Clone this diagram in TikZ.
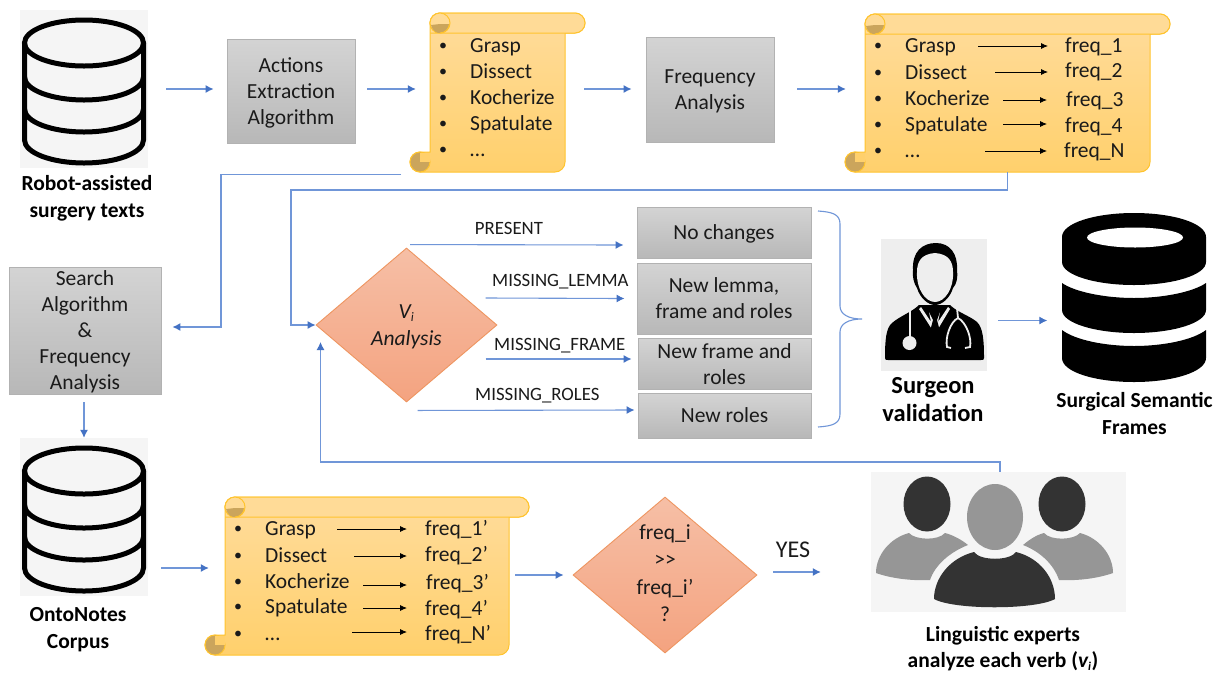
\documentclass[tikz,border=0pt]{standalone}
\usepackage{fontspec}
\setmainfont{Carlito}
\usetikzlibrary{arrows.meta,shapes.geometric}
\definecolor{ink}{HTML}{1A1A1A}
\definecolor{bluearr}{HTML}{7096D8}
\definecolor{bluetip}{HTML}{4472C4}
\definecolor{scrollb}{HTML}{FFC42E}
\definecolor{scrolltop}{HTML}{FFDC9C}
\definecolor{scrollbot}{HTML}{FFD06C}
\definecolor{rollfill}{HTML}{FFDB97}
\definecolor{curl}{HTML}{CBA55C}
\definecolor{dtop}{HTML}{F6BFA6}
\definecolor{dbot}{HTML}{F4A380}
\definecolor{dedge}{HTML}{EE9560}
\newcommand{\toprl}[1][20]{\rule{0pt}{#1pt}}
\newcommand{\botrl}[1][6]{\rule[-#1pt]{0pt}{#1pt}}
\tikzset{
  arr/.style={draw=bluearr,line width=1.1pt,-{Latex[length=8pt,width=8pt,color=bluetip]}},
  blk/.style={draw=black,line width=.8pt,-{Latex[length=7pt,width=6pt]}},
  graybox/.style={draw=black!30,line width=.9pt,top color=black!17,bottom color=black!28,inner sep=0pt,align=center,text=ink,font=\fontsize{21.5}{26}\selectfont},
  decide/.style={diamond,draw=dedge,line width=.9pt,top color=dtop,bottom color=dbot,inner sep=-5pt,aspect=1.17,align=center,text=ink},
  lab/.style={inner sep=0pt,text=ink,text height=14pt,text depth=4pt,font=\fontsize{18.8}{22}\selectfont},
  itemtxt/.style={inner sep=0pt,anchor=west,text=ink,text height=16pt,text depth=4pt,font=\fontsize{21.5}{24}\selectfont},
  bull/.style={inner sep=0pt,anchor=west,text=ink,text height=16pt,text depth=4pt,yshift=2pt,font=\fontsize{16}{20}\selectfont},
  boldcap/.style={inner sep=0pt,align=center,text=black,font=\bfseries\fontsize{21.5}{27}\selectfont},
  region/.style={inner sep=0pt},
}
\newcommand{\myscroll}[5]{%
  \node[region,minimum width=#3pt-#1pt,minimum height=#4pt-#2pt] (#5) at ({(#1+#3)/2},{(#2+#4)/2}) {};
  \path[draw=scrollb,line width=1pt,top color=scrolltop,bottom color=scrollbot,rounded corners=10pt]
    (#1,{#4-20}) -- (#1,#2) -- ({#3+20},#2) -- ({#3+20},{#2+20}) [sharp corners] -- (#3,{#2+20}) [rounded corners=10pt] -- (#3,#4) -- ({#1-20},#4) -- ({#1-20},{#4-20}) [sharp corners] -- cycle;
  \path[draw=scrollb,line width=1pt,fill=rollfill,rounded corners=10pt]
    ({#1+10},{#2+20}) -- ({#3+20},{#2+20}) -- ({#3+20},#2) -- (#1,#2) -- (#1,{#2+20}) -- cycle;
  \path[draw=scrollb,line width=1pt,fill=rollfill] ({#1+10},{#2+10}) circle[radius=10];
  \fill[curl] ({#1+1},{#2+12}) .. controls ({#1+3},{#2+19}) and ({#1+7},{#2+20}) .. ({#1+10},{#2+20}) .. controls ({#1+15},{#2+20}) and ({#1+19},{#2+16}) .. ({#1+19.5},{#2+11}) -- ({#1+10},{#2+11}) -- cycle;
  \draw[scrollb,line width=1pt] ({#1+19.5},{#2+11}) .. controls ({#1+19},{#2+16}) and ({#1+15},{#2+20}) .. ({#1+10},{#2+20});
  \filldraw[fill=curl,draw=scrollb,line width=1pt] ({#1-10},{#4-10}) circle[radius=10];
  \fill[scrollbot] ({#1-10},{#4-10}) rectangle ({#1-.5},{#4-19.5});
}
\newcommand{\mydb}[1]{%
  \begin{scope}[yshift=-#1pt,draw=black,line width=5pt,line cap=round]
    \draw (84,43) ellipse[x radius=59.5,y radius=23];
    \draw (24.5,43) -- (24.5,140) .. controls (24.5,153) and (52,163) .. (84,163) .. controls (116,163) and (143.5,153) .. (143.5,140) -- (143.5,43);
    \draw (24.5,77) .. controls (24.5,90) and (52,100) .. (84,100) .. controls (116,100) and (143.5,90) .. (143.5,77);
    \draw (24.5,109) .. controls (24.5,122) and (52,132) .. (84,132) .. controls (116,132) and (143.5,122) .. (143.5,109);
  \end{scope}
}
\begin{document}
\begin{tikzpicture}[x=1pt,y=-1pt]
\useasboundingbox (0,0) rectangle (1217,673);
\fill[white] (0,0) rectangle (1217,673);

% icons backgrounds and icons
\node[region,fill=black!4,minimum width=128pt,minimum height=158pt] (dbA) at (84,89) {};
\mydb{0}
\node[region,fill=black!4,minimum width=128pt,minimum height=158pt] (dbB) at (84,517) {};
\mydb{428}
\node[boldcap] (capA) at (87,197.5) {\toprl[18]Robot-assisted\\surgery texts\botrl};
\node[boldcap] (capB) at (78,628.5) {\toprl[18]OntoNotes\\Corpus\botrl};

% scrolls
\myscroll{430}{13}{565}{172}{scrollA}
\myscroll{865}{14}{1150}{172}{scrollB}
\myscroll{225}{497}{509}{655}{scrollC}

\foreach \n/\t/\y in {1/Grasp/46,2/Dissect/72,3/Kocherize/98,4/Spatulate/124,5/…/150}{
  \node[bull] (b\n) at (439,\y) {•};
  \node[itemtxt] (w\n) at (470,\y) {\t};
}
\foreach \n/\t/\yt/\xa/\xb/\ya/\f/\xf/\yf in {
  1/Grasp/46/978/1048/46/freq\_1/1065/46,
  2/Dissect/73/995/1048/72/freq\_2/1065/71,
  3/Kocherize/99/1003/1047/100/freq\_3/1066/100,
  4/Spatulate/125/1003/1047/124/freq\_4/1065/126,
  5/…/151/985/1047/151/freq\_N/1064/151}{
  \node[bull] (bb\n) at (874,\yt) {•};
  \node[itemtxt] (wb\n) at (905,\yt) {\t};
  \node[itemtxt] (fb\n) at (\xf,\yf) {\f};
  \coordinate (sb\n) at (\xa,\ya);
  \coordinate (eb\n) at (\xb,\ya);
  \draw[blk] (sb\n) -- (eb\n);
}
\foreach \n/\t/\yt/\xa/\xb/\ya/\f/\xf/\yf in {
  1/Grasp/529/337/407/529/freq\_1’/425/529,
  2/Dissect/556/354/407/556/freq\_2’/425/555,
  3/Kocherize/582/363/407/585/freq\_3’/426/583,
  4/Spatulate/607/363/407/608/freq\_4’/425/609,
  5/…/634/352/407/632/freq\_N’/425/634}{
  \node[bull] (bc\n) at (234,\yt) {•};
  \node[itemtxt] (wc\n) at (265,\yt) {\t};
  \node[itemtxt] (fc\n) at (\xf,\yf) {\f};
  \coordinate (sc\n) at (\xa,\ya);
  \coordinate (ec\n) at (\xb,\ya);
  \draw[blk] (sc\n) -- (ec\n);
}

% gray boxes
\node[graybox,minimum width=128pt,minimum height=104pt] (act) at (291,91) {\toprl Actions\\Extraction\\Algorithm\botrl};
\node[graybox,minimum width=128pt,minimum height=105pt] (freq) at (710,89.5) {\toprl Frequency\\Analysis\botrl};
\node[graybox,minimum width=152pt,minimum height=127pt] (search) at (85,330.5) {\toprl[18]Search\\Algorithm\\\&\\Frequency\\Analysis\botrl[4.5]};
\node[graybox,minimum width=174pt,minimum height=51pt] (nochg) at (724,232.5) {\toprl No changes\botrl};
\node[graybox,minimum width=174pt,minimum height=71pt] (lemma) at (724,298.5) {\toprl New lemma,\\frame and roles\botrl};
\node[graybox,minimum width=173pt,minimum height=51pt] (frameB) at (724.5,363.5) {\toprl New frame and\\roles\botrl[4.5]};
\node[graybox,minimum width=173pt,minimum height=45pt] (roles) at (724.5,415.5) {\toprl New roles\botrl};

% diamonds
\node[decide,minimum width=181pt,minimum height=154pt,font=\fontsize{21.5}{27}\selectfont] (vi) at (406.5,325) {\toprl\itshape V\textsubscript{\fontsize{13}{13}\selectfont i}\\\itshape Analysis\botrl[7]};
\node[decide,minimum width=184pt,minimum height=156pt,font=\fontsize{21.5}{27.5}\selectfont] (fq) at (665,575) {\toprl freq\_i\\>{}>\\freq\_i’\\?\botrl[9.5]};

% labels
\node[lab] (lp) at (509,229) {PRESENT};
\node[lab,anchor=west] (ll) at (492,281) {MISSING\_LEMMA};
\node[lab,anchor=west] (lf) at (494,345) {MISSING\_FRAME};
\node[lab,anchor=west] (lr) at (475,395) {MISSING\_ROLES};
\node[inner sep=0pt,text=ink,text height=18pt,text depth=4pt,font=\fontsize{24}{28}\selectfont] (ly) at (793,550) {YES};

% surgeon
\colorlet{sbg}{black!6.5}
\node[region,fill=sbg,minimum width=106pt,minimum height=132pt] (surg) at (934,305) {};
\fill[black] (913,270) .. controls (912,252) and (922,243) .. (936,243) .. controls (950,243) and (958,254) .. (957,270) .. controls (958,276) and (957,284) .. (953,288) .. controls (950,298) and (942,305) .. (935,305) .. controls (928,305) and (920,298) .. (917,288) .. controls (914,284) and (912,276) .. (913,270) -- cycle;
\fill[sbg] (917,272) .. controls (917,262) and (921,254) .. (935,253) .. controls (949,254) and (953,262) .. (953,272) .. controls (954,288) and (945,302) .. (935,302) .. controls (925,302) and (916,288) .. (917,272) -- cycle;
\fill[black] (885,358) .. controls (885,340) and (886,328) .. (892,323) .. controls (900,316) and (912,312) .. (919,305) -- (950,305) .. controls (957,312) and (970,316) .. (977,322) .. controls (983,328) and (984,340) .. (984,358) .. controls (984,360) and (983,360) .. (981,360) -- (888,360) .. controls (886,360) and (885,360) .. (885,358) -- cycle;
\fill[sbg] (921,307) -- (931,322) -- (929,312) -- (940,312) -- (938,322) -- (948,307) -- (950,309) -- (935,334) -- (919,309) -- cycle;
\fill[black] (929,312) -- (940,312) -- (937,320) -- (941,335) -- (935,346) -- (929,335) -- (933,320) -- cycle;
\draw[draw=sbg,line width=1.8pt] (910,309) -- (910,338);
\fill[sbg] (909.5,343) circle[radius=7];
\draw[draw=sbg,line width=1.8pt] (957,308) -- (958,318) .. controls (950,322) and (945,338) .. (947,347) -- (951,348);
\draw[draw=sbg,line width=1.8pt] (958,318) .. controls (966,322) and (972,338) .. (970,347) -- (965,348);
\node[inner sep=0pt,align=center,text=black,font=\bfseries\fontsize{24.5}{28}\selectfont] (capS) at (933,401) {\toprl[18]Surgeon\\validation\botrl};

% solid database
\node[region,minimum width=143pt,minimum height=165pt] (dbS) at (1134,297.5) {};
\fill[black] (1062,237) .. controls (1062,223) and (1095,213) .. (1134,213) .. controls (1173,213) and (1206,223) .. (1206,237) -- (1206,262) .. controls (1206,275) and (1173,285) .. (1134,285) .. controls (1095,285) and (1062,275) .. (1062,262) -- cycle;
\fill[white] (1135,237.5) ellipse[x radius=48,y radius=10];
\fill[black] (1062,283) .. controls (1075,292) and (1105,298) .. (1134,298) .. controls (1163,298) and (1193,292) .. (1206,283) -- (1206,310) .. controls (1206,323) and (1173,333) .. (1134,333) .. controls (1095,333) and (1062,323) .. (1062,310) -- cycle;
\fill[black] (1062,330) .. controls (1075,340) and (1105,346) .. (1134,346) .. controls (1163,346) and (1193,340) .. (1206,330) -- (1206,358) .. controls (1206,372) and (1173,382) .. (1134,382) .. controls (1095,382) and (1062,372) .. (1062,358) -- cycle;
\node[boldcap] (capF) at (1134.5,414.5) {\toprl[18]Surgical Semantic\\Frames\botrl};

% experts
\node[region,fill=black!4,minimum width=255pt,minimum height=140pt] (exp) at (998.5,542) {};
\definecolor{dk}{HTML}{333333}
\definecolor{md}{HTML}{969696}
\fill[dk] (927,504) ellipse[x radius=23.5,y radius=27.5];
\fill[dk] (1062,504) ellipse[x radius=23.5,y radius=27.5];
\fill[md] (876,573) .. controls (876,555) and (890,538) .. (909,533) .. controls (915,540) and (938,541) .. (945,533) .. controls (953,535) and (962,540) .. (968,545) .. controls (950,552) and (935,565) .. (930,580) .. controls (910,581) and (890,578) .. (876,573) -- cycle;
\fill[md] (1113,573) .. controls (1113,555) and (1099,538) .. (1080,533) .. controls (1074,540) and (1051,541) .. (1044,533) .. controls (1036,535) and (1029,540) .. (1023,545) .. controls (1041,552) and (1054,565) .. (1059,580) .. controls (1079,581) and (1099,578) .. (1113,573) -- cycle;
\fill[md] (995,517) ellipse[x radius=28,y radius=33];
\fill[dk] (934,599) .. controls (934,578) and (950,558) .. (974,552) .. controls (980,561) and (1010,561) .. (1016,552) .. controls (1040,558) and (1055,578) .. (1055,599) .. controls (1035,610) and (954,610) .. (934,599) -- cycle;
\node[boldcap,font=\bfseries\fontsize{21.5}{26}\selectfont] (capE) at (1003,648.5) {\toprl[18]Linguistic experts\\analyze each verb ({\itshape v\textsubscript{\fontsize{12}{12}\selectfont i}})\botrl};

% brace
\coordinate (brT) at (818,211);
\coordinate (brM) at (862,319);
\coordinate (brB) at (818,427);
\draw[bluearr,line width=1.1pt] (brT) .. controls (832,212) and (840,214) .. (840,224) -- (840,306) .. controls (840,314) and (848,319) .. (brM) .. controls (848,319) and (840,324) .. (840,332) -- (840,414) .. controls (840,424) and (832,426) .. (brB);

% connectors
\coordinate (bendA) at (221,250);
\coordinate (bendB) at (291,190);
\coordinate (bendC) at (320.5,462);
\draw[arr] ([xshift=18pt]dbA.east) -- ([xshift=-13pt,yshift=2pt]act.west);
\draw[arr] ([xshift=12pt,yshift=2pt]act.east) -- ([xshift=-14pt,yshift=3.5pt]scrollA.west);
\draw[arr] ([xshift=19pt,yshift=3.5pt]scrollA.east) -- ([xshift=-14pt,yshift=.5pt]freq.west);
\draw[arr] ([xshift=23pt,yshift=.5pt]freq.east) -- ([xshift=-19pt,yshift=4pt]scrollB.west);
\draw[arr] ([xshift=-96.5pt,yshift=-2pt]scrollA.south) -| (bendA) |- ([xshift=11pt,yshift=3.5pt]search.east);
\draw[arr] (scrollB.south) |- (bendB) |- (vi.west);
\draw[arr] ([xshift=3.5pt,yshift=3pt]vi.north) -- ([xshift=-13pt,yshift=-12.5pt]nochg.west);
\draw[arr] ([xshift=79pt,yshift=27pt]vi.center) -- ([xshift=-12pt]lemma.west);
\draw[arr] ([xshift=79pt,yshift=-34pt]vi.center) -- ([xshift=-6pt,yshift=4.5pt]frameB.west);
\draw[arr] ([xshift=11pt,yshift=-8pt]vi.south) -- ([xshift=-3pt,yshift=5.5pt]roles.west);
\draw[arr] ([xshift=11pt,yshift=-15.5pt]surg.east) -- ([xshift=-15pt,yshift=-23pt]dbS.west);
\draw[arr] ([xshift=1.5pt]exp.north) |- (bendC) -- ([xshift=-86pt,yshift=-17pt]vi.center);
\draw[arr] ([xshift=-1pt,yshift=-8pt]search.south) -- (dbB.north);
\draw[arr] ([xshift=13pt,yshift=-51pt]dbB.east) -- ([xshift=-16pt,yshift=8pt]scrollC.west);
\draw[arr] ([xshift=6pt,yshift=1pt]scrollC.east) -- ([xshift=-9pt]fq.west);
\draw[arr] ([xshift=16pt,yshift=3pt]fq.east) -- ([xshift=-50pt,yshift=-30pt]exp.west);
\end{tikzpicture}
\end{document}
